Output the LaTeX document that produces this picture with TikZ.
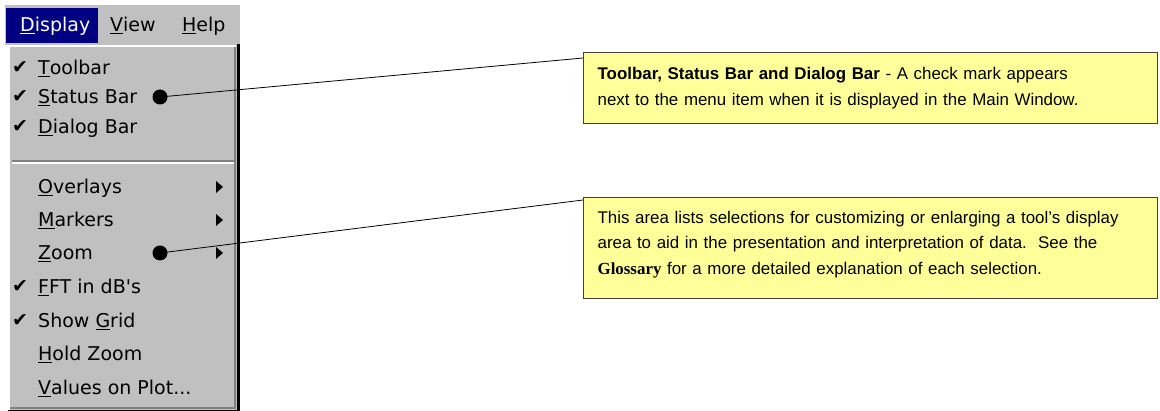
\documentclass[tikz,border=0pt]{standalone}
\usepackage{fontspec}
\setmainfont{Liberation Sans}
\newfontfamily\menufont{DejaVu Sans}
\newfontfamily\glossfont{Liberation Serif}
\usetikzlibrary{positioning}
\usepackage{xcolor}

\definecolor{menugray}{HTML}{C0C0C0}
\definecolor{menushade}{HTML}{808080}
\definecolor{selblue}{HTML}{000080}
\definecolor{notefill}{HTML}{FFFF99}
\definecolor{noteline}{HTML}{404040}
\newcommand{\key}[1]{\underline{#1}}

\tikzset{
  menuitem/.style={anchor=base west, inner sep=0pt, font=\menufont\fontsize{19}{22}\selectfont},
  checkmark/.style={inner sep=0pt, font=\menufont\fontsize{19}{19}\selectfont},
  callout/.style={draw=noteline, line width=1.2pt, fill=notefill, anchor=north west,
    align=left, text width=546pt, inner xsep=14pt, inner ysep=0pt,
    font=\fontsize{16.9}{25.5}\selectfont},
  pin/.style={circle, fill=black, minimum size=15pt, inner sep=0pt},
}

\begin{document}
\begin{tikzpicture}[x=1pt,y=-1pt]
  \useasboundingbox (0,0) rectangle (1160,411);

  % Menu bar
  \fill[menugray] (5,5) rectangle (240,45);
  \fill[selblue] (6,8) rectangle (98,43);
  \node[menuitem, text=white] (display) at (20,32) {\key{D}isplay};
  \node[menuitem] (view) at (110,32) {\key{V}iew};
  \node[menuitem] (help) at (182,32) {\key{H}elp};

  % Drop-down frame
  \fill[menugray] (8,45) rectangle (240,411);
  \draw[white, line width=2pt] (9,411) -- (9,46) -- (236,46);
  \draw[menushade, line width=1.5pt] (235,47) -- (235,408) -- (10,408);
  \draw[black, line width=2.5pt] (238.5,44) -- (238.5,411);
  \draw[black, line width=1.5pt] (8,410.5) -- (240,410.5);

  % Separator
  \draw[menushade, line width=1.2pt] (12,161) -- (234,161);
  \draw[white, line width=1.2pt] (12,163) -- (234,163);

  % Menu entries
  \foreach \y/\txt in {75/{\key{T}oolbar}, 104/{\key{S}tatus Bar}, 134/{\key{D}ialog Bar},
      194/{\key{O}verlays}, 227/{\key{M}arkers}, 260/{\key{Z}oom},
      294/{\key{F}FT in dB{\char"0027}s}, 328/{Show \key{G}rid},
      361/{\key{H}old Zoom}, 395/{\key{V}alues on Plot...}} {
    \node[menuitem] (item\y) at (38,\y) {\txt};
  }

  % Check marks
  \foreach \y in {68, 97, 127, 287, 321} {
    \node[checkmark] (tick\y) at (20,\y) {✔};
  }

  % Submenu arrows
  \foreach \y in {187, 220, 253} {
    \fill (216,\y-6) -- (223,\y) -- (216,\y+6) -- cycle;
  }

  % Callouts
  \node[callout, minimum height=71pt] (notebars) at (583,52)
    {\textbf{Toolbar, Status Bar and Dialog Bar} - A check mark appears\\
     next to the menu item when it is displayed in the Main Window.};
  \node[callout, minimum height=101pt] (notezoom) at (583,197)
    {This area lists selections for customizing or enlarging a tool’s display\\
     area to aid in the presentation and interpretation of data.\ \ See the\\
     {\glossfont\bfseries Glossary} for a more detailed explanation of each selection.\rule[-11pt]{0pt}{0pt}};

  % Pointers
  \node[pin] (pinbars) at (160,97) {};
  \node[pin] (pinzoom) at (160,253) {};
  \coordinate (tipbars) at ([yshift=-6pt]notebars.north west);
  \coordinate (tipzoom) at ([yshift=-3pt]notezoom.north west);
  \draw[line width=0.8pt] (pinbars.center) -- (tipbars);
  \draw[line width=0.8pt] (pinzoom.center) -- (tipzoom);
\end{tikzpicture}
\end{document}
